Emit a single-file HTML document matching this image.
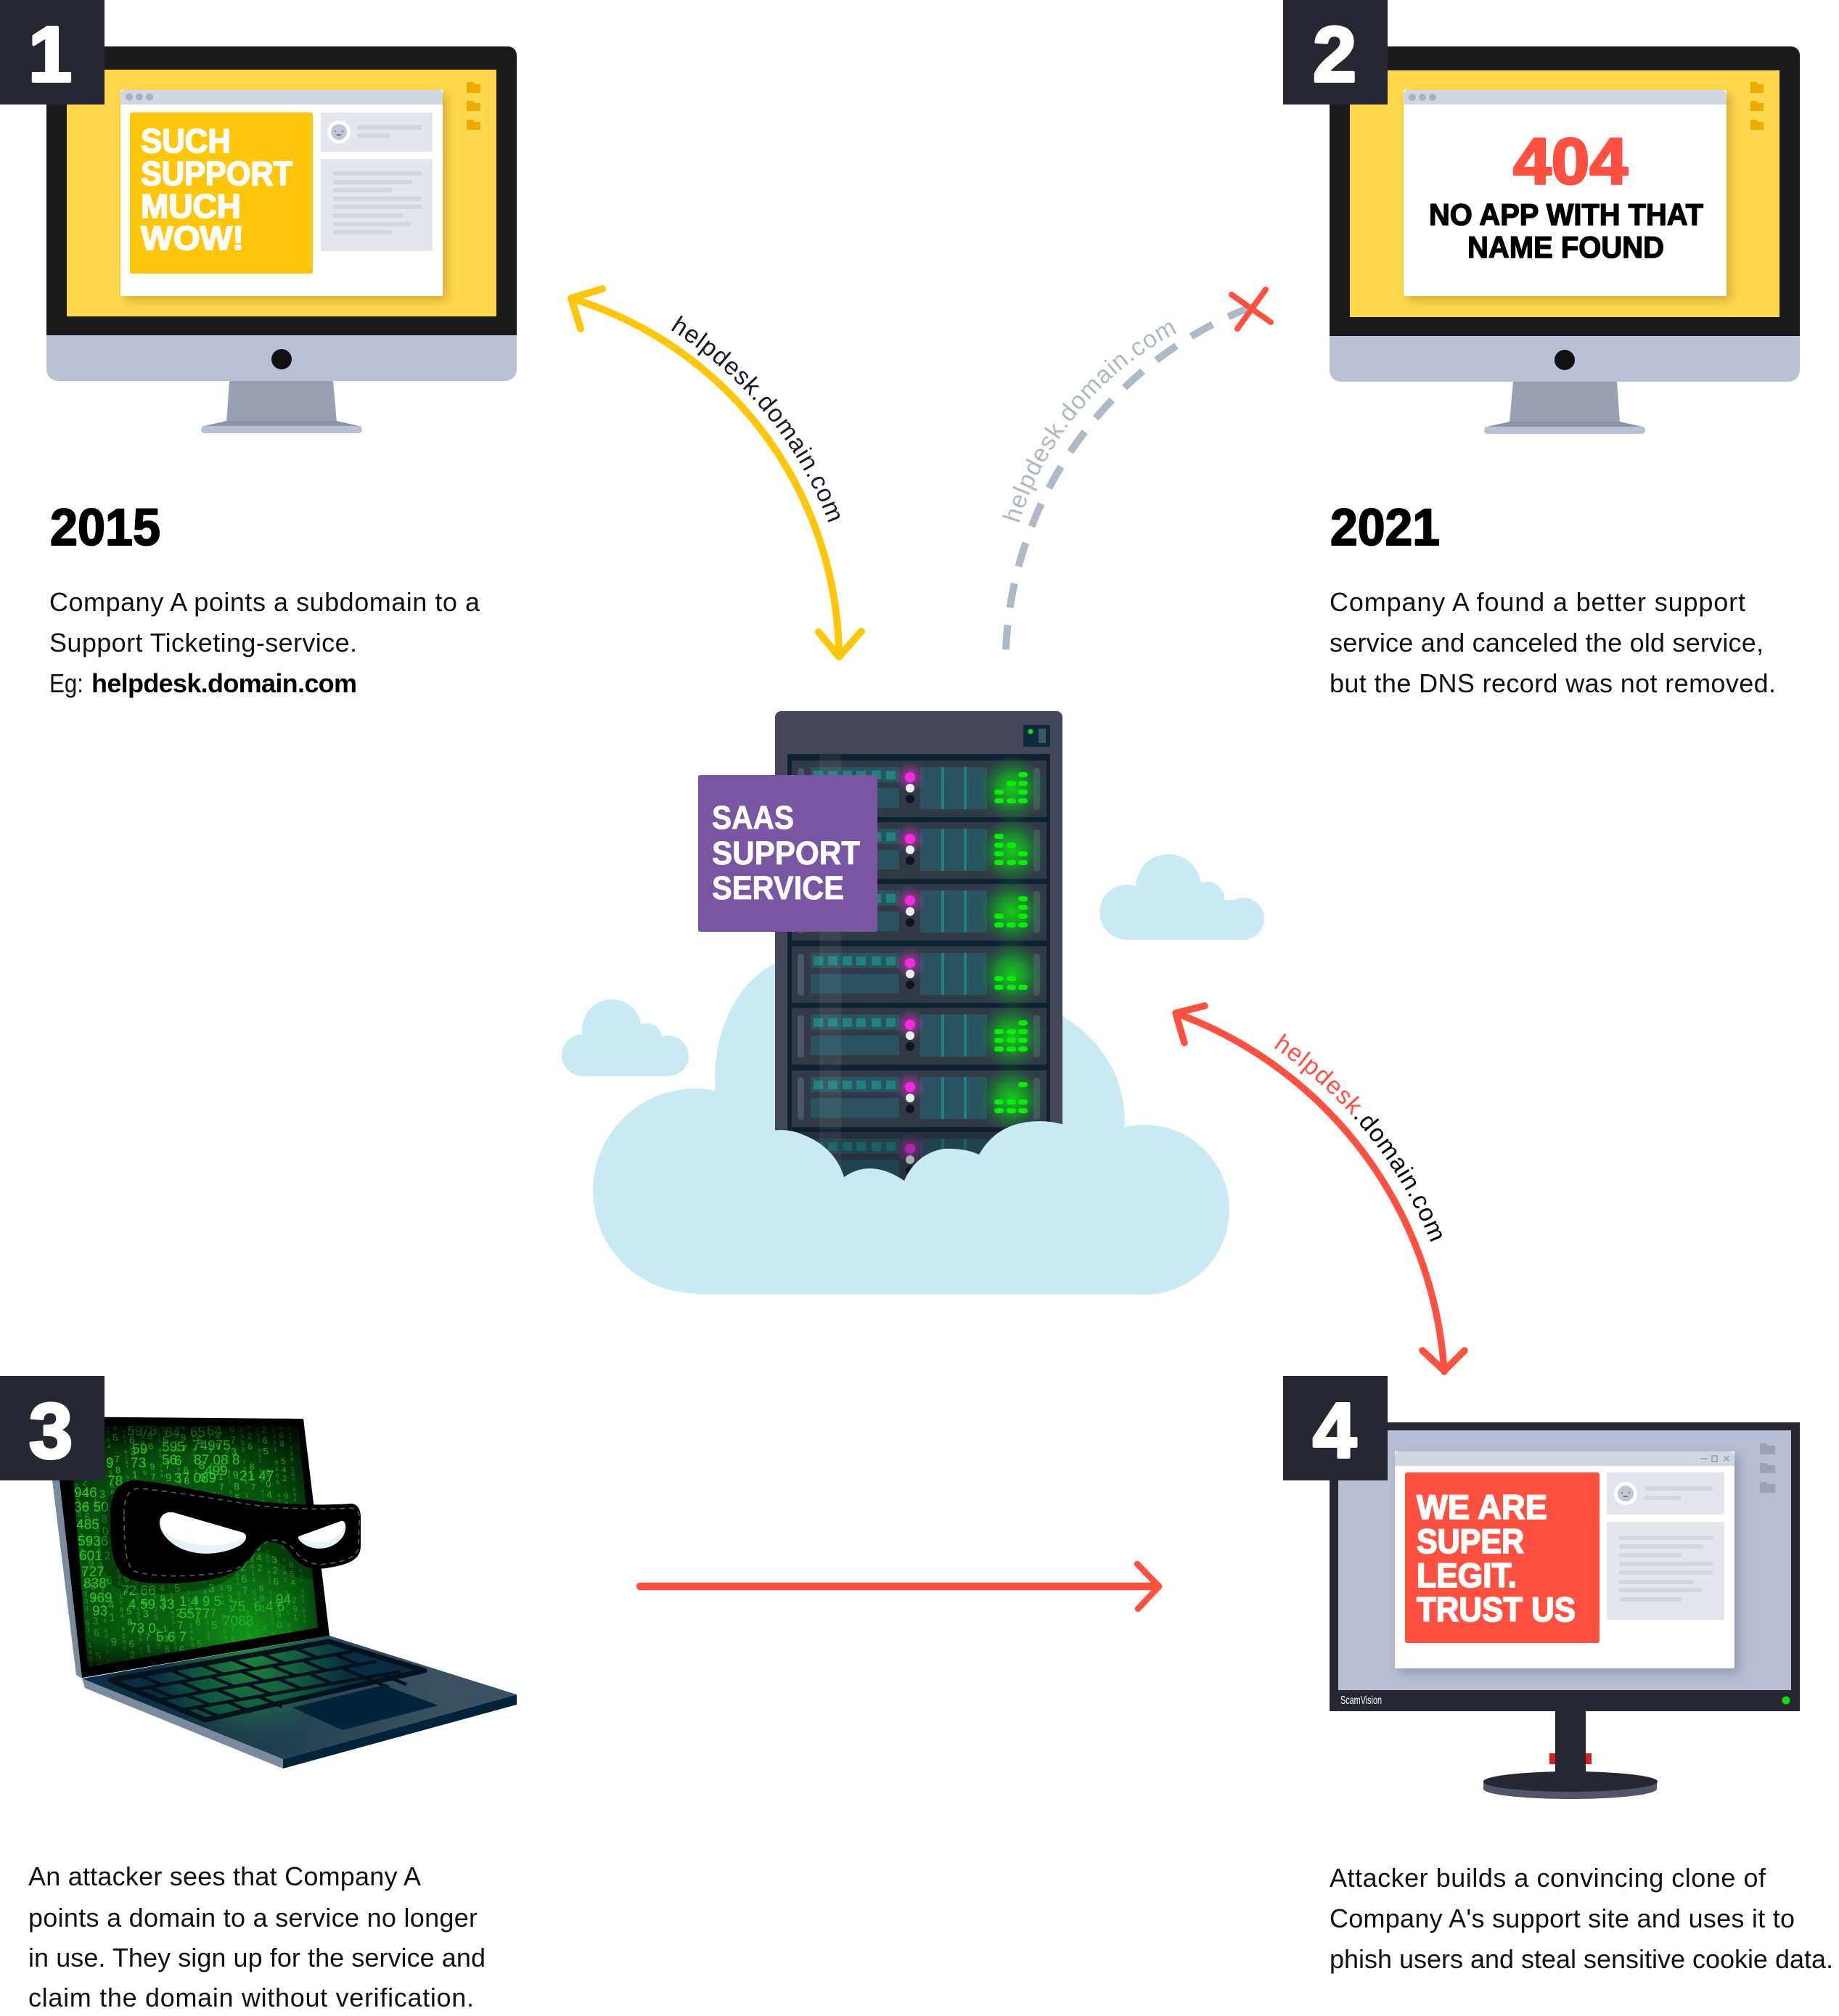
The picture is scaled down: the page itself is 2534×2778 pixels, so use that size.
<!DOCTYPE html>
<html><head><meta charset="utf-8"><title>Subdomain takeover</title>
<style>
html,body{margin:0;padding:0;background:#fff}
svg{display:block}
text{font-family:"Liberation Sans",sans-serif}
.b{font-size:36px;fill:#111}
.hd{font-weight:700;stroke-linejoin:round;paint-order:stroke}
.dg{font-family:"Liberation Sans",sans-serif;white-space:pre}
.v text{font-family:"Liberation Sans",sans-serif;writing-mode:vertical-rl;text-orientation:upright;white-space:pre}
.lnk{font-size:34px;letter-spacing:1.2px}
</style></head><body>
<svg xmlns="http://www.w3.org/2000/svg" width="2534" height="2778" viewBox="0 0 2534 2778">
<defs>
<filter id="sh" x="-10%" y="-10%" width="120%" height="120%"><feGaussianBlur stdDeviation="7"/></filter>
<radialGradient id="glow"><stop offset="0" stop-color="#14d814" stop-opacity=".92"/><stop offset=".45" stop-color="#12b822" stop-opacity=".68"/><stop offset=".8" stop-color="#0e8a2c" stop-opacity=".3"/><stop offset="1" stop-color="#0c8030" stop-opacity="0"/></radialGradient>
<radialGradient id="pk"><stop offset="0" stop-color="#ff30e0" stop-opacity=".6"/><stop offset="1" stop-color="#ff30e0" stop-opacity="0"/></radialGradient>
<radialGradient id="scr" gradientUnits="userSpaceOnUse" cx="260" cy="2170" r="230"><stop offset="0" stop-color="#0d6a14"/><stop offset=".7" stop-color="#07500e"/><stop offset="1" stop-color="#022006"/></radialGradient>
<linearGradient id="scrb" x1="0" y1="0" x2="0" y2="1"><stop offset="0" stop-color="#000" stop-opacity=".75"/><stop offset=".1" stop-color="#000" stop-opacity="0"/><stop offset=".88" stop-color="#000" stop-opacity="0"/><stop offset="1" stop-color="#000" stop-opacity=".6"/></linearGradient>
<radialGradient id="sg" gradientUnits="userSpaceOnUse" cx="345" cy="2262" r="110"><stop offset="0" stop-color="#16a01e" stop-opacity=".85"/><stop offset="1" stop-color="#16a01e" stop-opacity="0"/></radialGradient>
<linearGradient id="deck" gradientUnits="userSpaceOnUse" x1="200" y1="2360" x2="600" y2="2300"><stop offset="0" stop-color="#0e3045"/><stop offset="1" stop-color="#3a5260"/></linearGradient>
<radialGradient id="kb" gradientUnits="userSpaceOnUse" cx="345" cy="2290" r="135"><stop offset="0" stop-color="#1f7f3e"/><stop offset=".55" stop-color="#10583f"/><stop offset="1" stop-color="#0a2c42"/></radialGradient>
<radialGradient id="dg" gradientUnits="userSpaceOnUse" cx="345" cy="2278" r="125"><stop offset="0" stop-color="#1c9a38" stop-opacity=".8"/><stop offset="1" stop-color="#1c9a38" stop-opacity="0"/></radialGradient>
<clipPath id="sc"><polygon points="95,1965 411,1965 438,2243 121,2297"/></clipPath>

<g id="unit">
<rect x="1091" y="0" width="351" height="78" fill="#323a47"/>
<rect x="1099" y="10" width="9" height="58" rx="4" fill="#4a5664"/>
<rect x="1424" y="10" width="9" height="58" rx="4" fill="#4a5664"/>
<rect x="1117" y="9" width="122" height="21" fill="#2a5361"/>
<rect x="1121" y="14" width="13" height="12" fill="#22807e"/><rect x="1141" y="14" width="13" height="12" fill="#22807e"/><rect x="1161" y="14" width="13" height="12" fill="#22807e"/><rect x="1180" y="14" width="13" height="12" fill="#22807e"/><rect x="1201" y="14" width="13" height="12" fill="#22807e"/><rect x="1221" y="14" width="13" height="12" fill="#22807e"/>
<rect x="1117" y="38" width="122" height="27" fill="#2a5361"/>
<rect x="1268" y="9" width="92" height="58" fill="#2a5361"/>
<rect x="1297" y="9" width="4" height="58" fill="#22807e"/><rect x="1328" y="9" width="4" height="58" fill="#22807e"/>
<circle cx="1254" cy="23" r="21" fill="url(#pk)"/>
<circle cx="1254" cy="23" r="7" fill="#f22ae0"/>
<circle cx="1254" cy="38" r="6" fill="#e6f2ea"/>
<circle cx="1254" cy="53" r="6" fill="#0c1620"/>
<circle cx="1394" cy="39" r="46" fill="url(#glow)"/>
</g>
<rect id="l" width="13" height="7" rx="3.500" fill="#08f008"/>
<g id="face"><circle cx="0" cy="0" r="16" fill="#fff"/><circle cx="0" cy="0" r="11" fill="#c0c6d4"/><circle cx="-5" cy="-1" r="1.200" fill="#7d859b"/><circle cx="5" cy="-1" r="1.200" fill="#7d859b"/><path d="M-4 3a4.500 4 0 0 0 8 0Z" fill="#6f7790"/></g>
</defs>

<rect width="2534" height="2778" fill="#fff"/>

<!-- MONITOR 1 -->
<rect x="64" y="64" width="648" height="461" rx="16" fill="#b9c0d3"/>
<path d="M64 462V76a12 12 0 0 1 12-12H700a12 12 0 0 1 12 12V462Z" fill="#1a1a1a"/>
<rect x="92" y="96" width="592" height="340" fill="#ffd84f"/>
<circle cx="388" cy="495" r="14" fill="#111"/>
<polygon points="316,525 459,525 464,582 312,582" fill="#989fb0"/>
<polygon points="312,580 464,580 499,588 277,588" fill="#8d94a8"/>
<rect x="277" y="587" width="222" height="10" rx="5" fill="#b9c0d3"/>
<rect x="172" y="130" width="444" height="284" fill="#8a6a10" opacity=".4" filter="url(#sh)"/>
<rect x="166" y="124" width="444" height="284" fill="#fff"/>
<path d="M166 144V130a6 6 0 0 1 6-6H604a6 6 0 0 1 6 6V144Z" fill="#d1d7e0"/>
<circle cx="178" cy="133.500" r="5" fill="#a9b0c2"/><circle cx="192" cy="133.500" r="5" fill="#a9b0c2"/><circle cx="206" cy="133.500" r="5" fill="#a9b0c2"/>
<rect x="179" y="155" width="252" height="222" rx="3" fill="#ffc60b"/>
<g class="hd" fill="#fff" stroke="#fff" stroke-width="1.800" font-size="46">
<text x="194" y="210" textLength="124" lengthAdjust="spacingAndGlyphs">SUCH</text>
<text x="194" y="255" textLength="209" lengthAdjust="spacingAndGlyphs">SUPPORT</text>
<text x="194" y="300" textLength="138" lengthAdjust="spacingAndGlyphs">MUCH</text>
<text x="194" y="344" textLength="142" lengthAdjust="spacingAndGlyphs">WOW!</text>
</g>
<rect x="442" y="155" width="154" height="54" fill="#e3e6ec"/>
<rect x="442" y="219" width="154" height="127" fill="#e3e6ec"/>
<use href="#face" x="467" y="182"/>
<rect x="492" y="172" width="89" height="7" fill="#d1d7e0"/><rect x="492" y="184" width="46" height="6" fill="#d1d7e0"/>
<g fill="#d1d7e0"><rect x="459" y="236" width="122" height="6"/><rect x="459" y="248" width="109" height="6"/><rect x="459" y="259" width="81" height="6"/><rect x="459" y="271" width="122" height="6"/><rect x="459" y="282" width="122" height="6"/><rect x="459" y="294" width="97" height="6"/><rect x="459" y="306" width="107" height="6"/><rect x="459" y="317" width="81" height="6"/></g>
<g fill="#edaa00"><path d="M643 113h9l2 3h8v12h-19Z"/><path d="M643 139h9l2 3h8v11h-19Z"/><path d="M643 165h9l2 3h8v11h-19Z"/></g>
<rect x="0" y="0" width="144" height="144" fill="#252733"/>
<text x="69" y="112" font-size="108" text-anchor="middle" class="hd" fill="#fff" stroke="#fff" stroke-width="4">1</text>
<text x="69" y="751" font-size="71" class="hd" fill="#000" stroke="#000" stroke-width="2" textLength="152" lengthAdjust="spacingAndGlyphs">2015</text>
<text class="b" x="68" y="842" textLength="593">Company A points a subdomain to a</text>
<text class="b" x="68" y="898" textLength="424">Support Ticketing-service.</text>
<text class="b" x="68" y="954" textLength="47" lengthAdjust="spacingAndGlyphs">Eg:</text>
<text class="b" x="126" y="954" textLength="366" font-weight="700" style="fill:#000">helpdesk.domain.com</text>

<!-- MONITOR 2 -->
<rect x="1832" y="64" width="648" height="462" rx="16" fill="#b9c0d3"/>
<path d="M1832 463V76a12 12 0 0 1 12-12H2468a12 12 0 0 1 12 12V463Z" fill="#1a1a1a"/>
<rect x="1860" y="97" width="592" height="340" fill="#ffd84f"/>
<circle cx="2156" cy="496" r="14" fill="#111"/>
<polygon points="2085,526 2228,526 2232,582 2080,582" fill="#989fb0"/>
<polygon points="2080,581 2232,581 2267,589 2045,589" fill="#8d94a8"/>
<rect x="2045" y="588" width="222" height="10" rx="5" fill="#b9c0d3"/>
<rect x="1940" y="130" width="445" height="284" fill="#8a6a10" opacity=".4" filter="url(#sh)"/>
<rect x="1934" y="124" width="445" height="284" fill="#fff"/>
<path d="M1934 144V130a6 6 0 0 1 6-6H2373a6 6 0 0 1 6 6V144Z" fill="#d1d7e0"/>
<circle cx="1946" cy="134" r="5" fill="#a9b0c2"/><circle cx="1960" cy="134" r="5" fill="#a9b0c2"/><circle cx="1974" cy="134" r="5" fill="#a9b0c2"/>
<g fill="#edaa00"><path d="M2412 113h8l2 3h8v12h-18Z"/><path d="M2412 139h8l2 3h8v11h-18Z"/><path d="M2412 165h8l2 3h8v11h-18Z"/></g>
<text x="2085" y="253" font-size="90" class="hd" fill="#ff5142" stroke="#ff5142" stroke-width="3" textLength="158" lengthAdjust="spacingAndGlyphs">404</text>
<g class="hd" fill="#000" stroke="#000" stroke-width="1.400" font-size="42">
<text x="1969" y="310" textLength="378" lengthAdjust="spacingAndGlyphs">NO APP WITH THAT</text>
<text x="2022" y="355" textLength="271" lengthAdjust="spacingAndGlyphs">NAME FOUND</text>
</g>
<rect x="1768" y="0" width="144" height="144" fill="#252733"/>
<text x="1839" y="112" font-size="108" text-anchor="middle" class="hd" fill="#fff" stroke="#fff" stroke-width="4">2</text>
<text x="1833" y="751" font-size="71" class="hd" fill="#000" stroke="#000" stroke-width="2" textLength="151" lengthAdjust="spacingAndGlyphs">2021</text>
<text class="b" x="1832" y="842" textLength="573">Company A found a better support</text>
<text class="b" x="1832" y="898" textLength="598">service and canceled the old service,</text>
<text class="b" x="1832" y="954" textLength="615">but the DNS record was not removed.</text>

<!-- ARROWS TOP -->
<g fill="none" stroke="#ffc60b" stroke-width="10" stroke-linecap="round" stroke-linejoin="round">
<path d="M787 411A520 520 0 0 1 1156 900"/>
<path d="M830 398L787 411 800 453"/>
<path d="M1128 871L1156 905 1187 870"/>
</g>
<path id="ty" d="M923 454A540 540 0 0 1 1165 800" fill="none"/>
<text class="lnk" fill="#1a1a2a"><textPath href="#ty">helpdesk.domain.com</textPath></text>
<path d="M1386 895A530 530 0 0 1 1719 425" fill="none" stroke="#acb9c6" stroke-width="10" stroke-dasharray="34 24"/>
<path id="tg" d="M1404 722A440 440 0 0 1 1635 452" fill="none"/>
<text class="lnk" fill="#acb9c6"><textPath href="#tg">helpdesk.domain.com</textPath></text>
<path d="M1697 406L1751 444M1744 399L1705 453" stroke="#ff5142" stroke-width="8" stroke-linecap="round" fill="none"/>

<!-- SMALL CLOUDS -->
<g fill="#c9e9f3">
<circle cx="1553" cy="1257" r="38"/><circle cx="1610" cy="1222" r="45"/><circle cx="1664" cy="1238" r="23"/><circle cx="1713" cy="1266" r="29"/><rect x="1553" y="1240" width="160" height="55"/>
<circle cx="803" cy="1454" r="29"/><circle cx="843" cy="1418" r="41"/><circle cx="892" cy="1430" r="20"/><circle cx="921" cy="1455" r="28"/><rect x="803" y="1430" width="118" height="53"/>
<!-- BIG CLOUD BACK -->
<circle cx="958" cy="1641" r="141"/><circle cx="1577" cy="1667" r="117"/><rect x="958" y="1600" width="619" height="183.500"/>
<path d="M987 1520C975 1420 1020 1350 1069 1327L1464 1400C1520 1435 1555 1490 1549 1560V1700H987Z"/>
</g>

<!-- RACK -->
<path d="M1068 1640V988a8 8 0 0 1 8-8H1456a8 8 0 0 1 8 8V1640Z" fill="#444758"/>
<rect x="1085" y="1039" width="362" height="601" fill="#0f2231"/>
<use href="#unit" y="1048"/><use href="#unit" y="1133"/><use href="#unit" y="1218"/><use href="#unit" y="1304"/><use href="#unit" y="1389"/><use href="#unit" y="1475"/><use href="#unit" y="1560"/>
<rect x="1129" y="1039" width="30" height="600" fill="#fff" opacity=".06"/>
<rect x="1068" y="1556" width="396" height="84" fill="#0c1a28" opacity=".3"/>
<rect x="1410" y="999" width="37" height="30" fill="#0e2a3f"/><circle cx="1420" cy="1008" r="3.500" fill="#10e010"/><rect x="1431" y="1004" width="10" height="20" fill="#3f5666"/>
<!-- LEDS -->
<g>
<use href="#l" x="1403" y="1064"/><use href="#l" x="1387" y="1076"/><use href="#l" x="1403" y="1076"/><use href="#l" x="1370" y="1088"/><use href="#l" x="1403" y="1088"/><use href="#l" x="1370" y="1100"/><use href="#l" x="1387" y="1100"/><use href="#l" x="1403" y="1100"/>
<use href="#l" x="1370" y="1149"/><use href="#l" x="1370" y="1161"/><use href="#l" x="1387" y="1161"/><use href="#l" x="1370" y="1173"/><use href="#l" x="1403" y="1173"/><use href="#l" x="1370" y="1185"/><use href="#l" x="1387" y="1185"/><use href="#l" x="1403" y="1185"/>
<use href="#l" x="1403" y="1235"/><use href="#l" x="1403" y="1247"/><use href="#l" x="1370" y="1259"/><use href="#l" x="1403" y="1259"/><use href="#l" x="1370" y="1271"/><use href="#l" x="1387" y="1271"/><use href="#l" x="1403" y="1271"/>
<use href="#l" x="1370" y="1345"/><use href="#l" x="1387" y="1345"/><use href="#l" x="1370" y="1357"/><use href="#l" x="1387" y="1357"/><use href="#l" x="1403" y="1357"/>
<use href="#l" x="1403" y="1406"/><use href="#l" x="1370" y="1418"/><use href="#l" x="1387" y="1418"/><use href="#l" x="1403" y="1418"/><use href="#l" x="1370" y="1430"/><use href="#l" x="1387" y="1430"/><use href="#l" x="1403" y="1430"/><use href="#l" x="1370" y="1442"/><use href="#l" x="1387" y="1442"/><use href="#l" x="1403" y="1442"/>
<use href="#l" x="1403" y="1491"/><use href="#l" x="1370" y="1515"/><use href="#l" x="1387" y="1515"/><use href="#l" x="1403" y="1515"/><use href="#l" x="1370" y="1527"/><use href="#l" x="1387" y="1527"/><use href="#l" x="1403" y="1527"/>
</g>
<!-- front cloud -->
<path d="M1040 1565Q1075 1550 1105 1563Q1150 1580 1163 1622Q1200 1596 1246 1627Q1262 1590 1300 1583Q1330 1582 1349 1591Q1375 1545 1432 1545Q1460 1545 1480 1556V1700H1040Z" fill="#c9e9f3"/>
<!-- purple -->
<rect x="962" y="1068" width="247" height="216" rx="3" fill="#7856a1"/>
<g class="hd" fill="#fff" stroke="#fff" stroke-width=".8" font-size="45">
<text x="981" y="1142" textLength="113" lengthAdjust="spacingAndGlyphs">SAAS</text>
<text x="981" y="1191" textLength="204" lengthAdjust="spacingAndGlyphs">SUPPORT</text>
<text x="981" y="1239" textLength="182" lengthAdjust="spacingAndGlyphs">SERVICE</text>
</g>

<!-- RED CURVE -->
<g fill="none" stroke="#ff5142" stroke-width="9.500" stroke-linecap="round" stroke-linejoin="round">
<path d="M1620 1396A565 565 0 0 1 1990 1890"/>
<path d="M1660 1386L1620 1396 1632 1437"/>
<path d="M1960 1861L1990 1889 2018 1861"/>
<path d="M882 2186H1596" stroke-width="10.500"/>
<path d="M1567 2155L1597 2186 1568 2217" stroke-width="8.500"/>
</g>
<path id="tr" d="M1754 1443A586 586 0 0 1 2005 1830" fill="none"/>
<text class="lnk"><textPath href="#tr"><tspan fill="#ff5142">helpdesk</tspan><tspan fill="#000">.domain.com</tspan></textPath></text>

<!-- LAPTOP -->
<polygon points="62,1952 72,2040 105,2308 113,2313 90,2040 75,1952" fill="#7a8b9e"/>
<polygon points="64,1952 418,1955 454,2254 113,2312 82,2040" fill="#000"/>
<g clip-path="url(#sc)">
<rect x="80" y="1960" width="380" height="340" fill="url(#scr)"/>
<g class="v" fill="#30d830" transform="translate(-155 0) skewX(4.500)">
<text x="100" y="1962" font-size="9" fill-opacity=".65">5871 4 9025 63 7194 8 5203 67 1489 62 73 04 1956 837 2041 6593 70 8124</text>
<text x="111" y="1970" font-size="14" fill-opacity=".55">897 2346 5 9 81 36 5907 14 23</text>
<text x="124" y="1958" font-size="7" fill-opacity=".65">3 19 5274 80 6 135 972 4860 31 7 5926 48 03 71 659 2 84 13 70 6 925 41 83 06 7</text>
<text x="134" y="1966" font-size="15" fill-opacity=".7">59 7 3 80 2 6 41 9 35 4 7</text>
<text x="148" y="1962" font-size="8" fill-opacity=".7">1704 829 365 7190 482 635 1784 9206 375 148 62 9035 741 8</text>
<text x="158" y="1958" font-size="13" fill-opacity=".8">95 78 024 63 197 58 624 073 159</text>
<text x="171" y="1970" font-size="7" fill-opacity=".65">482 6197 530 846 2197 530 486 2197 530 846 2197 530 846 219</text>
<text x="181" y="1960" font-size="14" fill-opacity=".85">863 174 95 280 63 714 9</text>
<text x="195" y="1964" font-size="9" fill-opacity=".7">2580 36 941 7528 03 6941 75 280 369 41 7 528 03 6</text>
<text x="206" y="1958" font-size="12" fill-opacity=".85">456 971 382 056 497 138 205 64</text>
<text x="218" y="1968" font-size="7" fill-opacity=".65">603 91 748 256 0391 748 256 039 174 825 6039 174 825 603 917 482 5</text>
<text x="227" y="1960" font-size="15" fill-opacity=".85">65 79 04 81 35 27 69 0</text>
<text x="242" y="1966" font-size="8" fill-opacity=".7">7158 2469 0371 5824 6903 7158 2469 0371 5824 6903 7158 2469</text>
<text x="252" y="1958" font-size="13" fill-opacity=".85">497 685 012 639 478 50 126</text>
<text x="265" y="1968" font-size="7" fill-opacity=".65">361 984 027 536 198 402 753 619 840 275 361 984 027 536 198 402 75</text>
<text x="274" y="1960" font-size="15" fill-opacity=".85">75 89 41 62 03 75 89 41</text>
<text x="288" y="1964" font-size="9" fill-opacity=".7">5703 692 814 5703 692 814 5703 692 814 5703 692 8</text>
<text x="299" y="1958" font-size="12" fill-opacity=".85">849 317 652 084 931 765 208 4</text>
<text x="311" y="1970" font-size="7" fill-opacity=".65">216 480 957 321 648 095 732 164 809 573 216 480 957 321 648 095 7</text>
<text x="320" y="1960" font-size="14" fill-opacity=".8">673 985 140 267 398 51</text>
<text x="333" y="1966" font-size="8" fill-opacity=".7">0952 7386 1409 5273 8614 0952 7386 1409 5273 8614 0952 7386</text>
<text x="343" y="1958" font-size="12" fill-opacity=".75">426 817 593 042 681 759 304 2</text>
<text x="355" y="1968" font-size="7" fill-opacity=".6">783 051 926 478 305 192 647 830 519 264 783 051 926 478 305 192 6</text>
<text x="364" y="1962" font-size="13" fill-opacity=".75">265 904 871 326 590 487 13</text>
<text x="377" y="1966" font-size="8" fill-opacity=".6">5371 9806 4253 7198 0642 5371 9806 4253 7198 0642 5371 9806</text>
<text x="387" y="1960" font-size="11" fill-opacity=".7">608 542 917 360 854 291 736 085 4</text>
<text x="399" y="1966" font-size="7" fill-opacity=".6">941 736 285 094 173 628 509 417 362 850 941 736 285 094 173 628 5</text>
</g>
<g class="dg" xml:space="preserve" fill="#34d434" font-size="19" fill-opacity=".88">
<text x="102" y="2063">946</text><text x="102" y="2083">36 50</text><text x="105" y="2107">485</text><text x="107" y="2130">5936</text><text x="109" y="2150">601</text><text x="112" y="2172">727</text><text x="115" y="2188">838</text><text x="123" y="2208">969</text><text x="127" y="2226">93</text>
<text x="146" y="2022">9</text><text x="148" y="2047">78</text>
<text x="175" y="1978">59</text><text x="195" y="1978">78</text><text x="227" y="1980">84</text><text x="262" y="1980">65</text><text x="285" y="1978">64</text><text x="182" y="2003">59</text><text x="223" y="2000">595</text><text x="265" y="1998">74975</text><text x="180" y="2022">73</text><text x="223" y="2018">56</text><text x="240" y="2019">6</text><text x="267" y="2018">87 08 8</text><text x="240" y="2043">37 089</text><text x="282" y="2033">499</text><text x="330" y="2040">21 47</text>
<text x="167" y="2198">72 66</text><text x="177" y="2217">4 59 33</text><text x="247" y="2213">1 4 9 5</text><text x="317" y="2220">75</text><text x="307" y="2240">7088</text><text x="247" y="2230">5577</text><text x="350" y="2220">6 4 6</text><text x="380" y="2210">94</text><text x="178" y="2250">73 0</text><text x="215" y="2262">5 6 7</text>
</g>
<polygon points="95,1965 411,1965 438,2243 121,2297" fill="url(#scrb)"/>
<rect x="200" y="2150" width="260" height="150" fill="url(#sg)"/>
<path d="M152 2087C152 2055 165 2040 185 2040C215 2040 290 2058 337 2066C380 2073 440 2075 482 2072C492 2071 497 2080 497 2090L497 2130C497 2150 480 2156 449 2161C425 2164 412 2158 400 2140C390 2124 362 2116 350 2140C335 2165 310 2177 255 2181C215 2184 175 2182 165 2165C152 2145 152 2120 152 2087Z" fill="#000" opacity=".28" transform="translate(-14 14)"/>
</g>
<!-- deck -->
<polygon points="113,2313 390,2424 390,2437 117,2326" fill="#7a8b9e"/>
<polygon points="712,2335 712,2349 390,2437 390,2424" fill="#02233a"/>
<polygon points="454,2254 712,2335 390,2424 113,2313" fill="url(#deck)"/>
<polygon points="454,2254 712,2335 390,2424 113,2313" fill="url(#dg)"/>
<polygon points="152,2315 453,2262 585,2302 283,2370" fill="url(#kb)"/>
<g transform="matrix(301 -53 131 55 152 2315)" fill="none" stroke="#03131d" stroke-width="4.500">
<path vector-effect="non-scaling-stroke" d="M0 .25H1M0 .5H1M0 .75H1M.13 0V.25M.27 0V.25M.41 0V.25M.55 0V.25M.69 0V.25M.84 0V.25M.07 .25V.5M.21 .25V.5M.35 .25V.5M.49 .25V.5M.63 .25V.5M.77 .25V.5M.92 .25V.5M.13 .5V.75M.27 .5V.75M.41 .5V.75M.55 .5V.75M.69 .5V.75M.84 .5V.75M.07 .75V1M.21 .75V1M.35 .75V1M.84 .75V1M.92 .75V1"/>
</g>
<polygon points="152,2315 453,2262 585,2302 283,2370" fill="none" stroke="#03131d" stroke-width="7" stroke-linejoin="round"/>
<polygon points="403,2353 528,2322 604,2350 472,2384" fill="#022338"/>
<!-- mask -->
<path d="M152 2087C152 2055 165 2040 185 2040C215 2040 290 2058 337 2066C380 2073 440 2075 482 2072C492 2071 497 2080 497 2090L497 2130C497 2150 480 2156 449 2161C425 2164 412 2158 400 2140C390 2124 362 2116 350 2140C335 2165 310 2177 255 2181C215 2184 175 2182 165 2165C152 2145 152 2120 152 2087Z" fill="#000"/>
<path d="M171 2087C171 2062 178 2050 194 2051C240 2056 290 2064 337 2072C380 2079 440 2081 482 2078C490 2078 495 2082 495 2090L494 2134C490 2146 475 2152 449 2155C430 2157 418 2152 407 2138C395 2120 368 2116 357 2134C345 2152 330 2163 306 2167C270 2172 215 2175 185 2165C172 2158 171 2120 171 2087Z" fill="none" stroke="#4e5f70" stroke-width="1.600" stroke-dasharray="7 6"/>
<path d="M220 2096C222 2085 232 2082 242 2085L335 2112C342 2115 340 2124 330 2130C300 2146 255 2145 232 2122C224 2114 219 2105 220 2096Z" fill="#e4f3f9"/>
<path d="M222 2094C224 2085 232 2082 242 2085L335 2112C340 2114 338 2120 332 2122C300 2135 250 2130 228 2112C223 2107 221 2100 222 2094Z" fill="#fff"/>
<path d="M412 2117L470 2096C478 2094 478 2110 472 2118C458 2138 428 2138 414 2124C411 2121 410 2118 412 2117Z" fill="#e4f3f9"/>
<path d="M412 2117L470 2096C476 2095 476 2104 471 2110C456 2128 430 2128 416 2120Z" fill="#fff"/>
<rect x="0" y="1896" width="144" height="144" fill="#252733"/>
<text x="70" y="2009" font-size="108" text-anchor="middle" class="hd" fill="#fff" stroke="#fff" stroke-width="4">3</text>
<text class="b" x="39" y="2598" textLength="541">An attacker sees that Company A</text>
<text class="b" x="39" y="2655" textLength="619">points a domain to a service no longer</text>
<text class="b" x="39" y="2710" textLength="630">in use. They sign up for the service and</text>
<text class="b" x="39" y="2765" textLength="614">claim the domain without verification.</text>

<!-- MONITOR 4 -->
<rect x="2135" y="2416" width="58" height="15" fill="#d81f26"/>
<rect x="2143" y="2350" width="42" height="100" fill="#252733"/>
<path d="M2044 2455V2465C2044 2473 2100 2479 2164 2479C2228 2479 2283 2473 2283 2465V2455Z" fill="#50556a"/>
<ellipse cx="2164" cy="2455" rx="120" ry="14" fill="#252733"/>
<rect x="2143" y="2400" width="42" height="52" fill="#252733"/>
<rect x="1832" y="1960" width="648" height="398" fill="#252733"/>
<rect x="1844" y="1971" width="624" height="358" fill="#b7bed1"/>
<text x="1847" y="2348" font-size="16" fill="#fff" textLength="57" lengthAdjust="spacingAndGlyphs">ScamVision</text>
<circle cx="2461" cy="2343" r="5.500" fill="#10e010"/>
<rect x="1928" y="2006" width="468" height="299" fill="#6a7186" opacity=".5" filter="url(#sh)"/>
<rect x="1922" y="2000" width="468" height="299" fill="#fff"/>
<path d="M1922 2020V2006a6 6 0 0 1 6-6H2384a6 6 0 0 1 6 6V2020Z" fill="#d1d7e0"/>
<path d="M2343 2010H2353M2379 2010m-3.500-3.500l7 7m0-7l-7 7" stroke="#9fa6b6" stroke-width="2" fill="none"/>
<rect x="2359" y="2006" width="7" height="8" fill="none" stroke="#9fa6b6" stroke-width="2"/>
<rect x="1936" y="2029" width="268" height="235" rx="3" fill="#ff5142"/>
<g class="hd" fill="#fff" stroke="#fff" stroke-width="1.800" font-size="47">
<text x="1952" y="2093" textLength="180" lengthAdjust="spacingAndGlyphs">WE ARE</text>
<text x="1952" y="2140" textLength="148" lengthAdjust="spacingAndGlyphs">SUPER</text>
<text x="1952" y="2187" textLength="138" lengthAdjust="spacingAndGlyphs">LEGIT.</text>
<text x="1952" y="2234" textLength="219" lengthAdjust="spacingAndGlyphs">TRUST US</text>
</g>
<rect x="2214" y="2029" width="162" height="58" fill="#e3e6ec"/>
<rect x="2214" y="2097" width="162" height="135" fill="#e3e6ec"/>
<use href="#face" x="2240" y="2058"/>
<rect x="2266" y="2048" width="94" height="6" fill="#d1d7e0"/><rect x="2266" y="2061" width="50" height="6" fill="#d1d7e0"/>
<g fill="#d1d7e0"><rect x="2231" y="2116" width="129" height="6"/><rect x="2231" y="2128" width="116" height="6"/><rect x="2231" y="2140" width="86" height="6"/><rect x="2231" y="2152" width="129" height="6"/><rect x="2231" y="2164" width="129" height="6"/><rect x="2231" y="2177" width="103" height="6"/><rect x="2231" y="2188" width="114" height="6"/><rect x="2231" y="2201" width="86" height="6"/></g>
<g fill="#9ca2b5"><path d="M2425 1989h9l2 3h10v12h-21Z"/><path d="M2425 2016h9l2 3h10v11h-21Z"/><path d="M2425 2042h9l2 3h10v12h-21Z"/></g>
<rect x="1768" y="1896" width="144" height="144" fill="#252733"/>
<text x="1839" y="2008" font-size="108" text-anchor="middle" class="hd" fill="#fff" stroke="#fff" stroke-width="4">4</text>
<text class="b" x="1832" y="2600" textLength="601">Attacker builds a convincing clone of</text>
<text class="b" x="1832" y="2656" textLength="641">Company A's support site and uses it to</text>
<text class="b" x="1832" y="2712" textLength="694">phish users and steal sensitive cookie data.</text>
</svg>
</body></html>
